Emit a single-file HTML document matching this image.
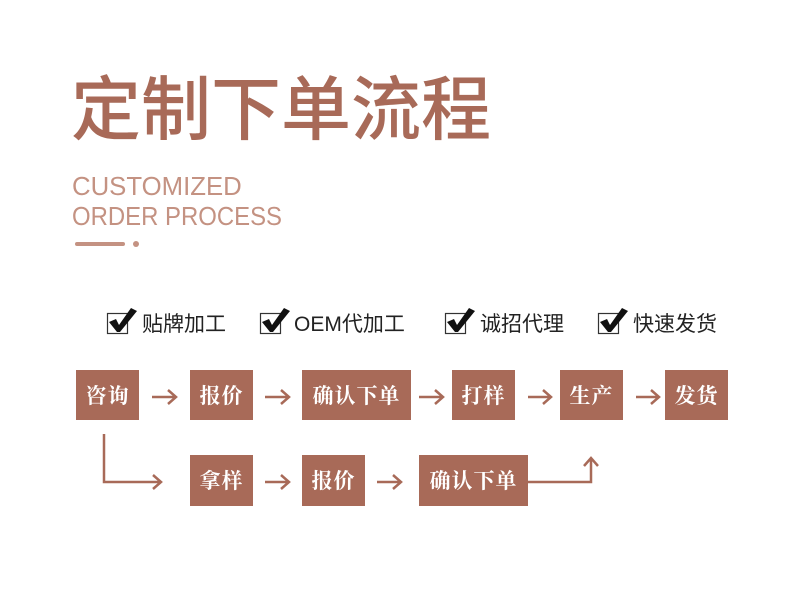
<!DOCTYPE html>
<html><head><meta charset="utf-8"><style>
body{margin:0;width:800px;height:605px;background:#fff;position:relative;overflow:hidden}
.t{position:absolute;left:71px;top:60px;font:500 70px/90px "Noto Sans CJK SC",sans-serif;color:#a86a58;white-space:nowrap}
.en{position:absolute;left:72px;font:26px/30px "Liberation Sans",sans-serif;color:#c49282;white-space:nowrap;transform-origin:0 0}
.chk{position:absolute;top:311px;font:21px/25px "Noto Sans CJK SC",sans-serif;color:#222;white-space:nowrap}
.bx{position:absolute;background:#a86a58;color:#fff;font:700 21px/50px "Noto Serif CJK SC",serif;text-align:center;letter-spacing:1px}
</style></head><body>
<div class="t">定制下单流程</div>
<div class="en" style="top:171px;transform:scaleX(0.99)">CUSTOMIZED</div>
<div class="en" style="top:201px;transform:scaleX(0.92)">ORDER PROCESS</div>
<div style="position:absolute;left:75px;top:242px;width:50px;height:4px;border-radius:2px;background:#c49282"></div>
<div style="position:absolute;left:133px;top:241px;width:6px;height:6px;border-radius:3px;background:#c49282"></div>

<svg width="800" height="605" style="position:absolute;left:0;top:0">
<g fill="none" stroke="#333" stroke-width="1.2">
<rect x="107.5" y="313.5" width="20" height="20"/><rect x="260.5" y="313.5" width="20" height="20"/><rect x="445.5" y="313.5" width="20" height="20"/><rect x="598.5" y="313.5" width="20" height="20"/>
</g>
<g fill="#111">
<path id="ck" d="M109 322 L116 319 L119 325 L131 308 L137 311 L120 332 L117 332 Z"/>
<use href="#ck" x="153"/><use href="#ck" x="338"/><use href="#ck" x="491"/>
</g>
<g fill="none" stroke="#a86a58" stroke-width="2.5">
<path d="M152 397 H175 M168 390 L176 397 L168 404"/>
<path d="M265 397 H288 M281 390 L289 397 L281 404"/>
<path d="M419 397 H442 M435 390 L443 397 L435 404"/>
<path d="M528 397 H550 M543 390 L551 397 L543 404"/>
<path d="M636 397 H658 M651 390 L659 397 L651 404"/>
<path d="M104 434 V482 H160 M153 475 L161 482 L153 489"/>
<path d="M265 482 H288 M281 475 L289 482 L281 489"/>
<path d="M377 482 H400 M393 475 L401 482 L393 489"/>
<path d="M528 482 H591 V459 M584 466 L591 458 L598 466"/>
</g>
</svg>
<div class="chk" style="left:142px">贴牌加工</div>
<div class="chk" style="left:294px"><span style="font-family:'Liberation Sans',sans-serif">OEM</span>代加工</div>
<div class="chk" style="left:480px">诚招代理</div>
<div class="chk" style="left:633px">快速发货</div>

<div class="bx" style="left:76px;top:370px;width:63px;height:50px">咨询</div>
<div class="bx" style="left:190px;top:370px;width:63px;height:50px">报价</div>
<div class="bx" style="left:302px;top:370px;width:109px;height:50px">确认下单</div>
<div class="bx" style="left:452px;top:370px;width:63px;height:50px">打样</div>
<div class="bx" style="left:560px;top:370px;width:63px;height:50px">生产</div>
<div class="bx" style="left:665px;top:370px;width:63px;height:50px">发货</div>
<div class="bx" style="left:190px;top:455px;width:63px;height:51px;line-height:51px">拿样</div>
<div class="bx" style="left:302px;top:455px;width:63px;height:51px;line-height:51px">报价</div>
<div class="bx" style="left:419px;top:455px;width:109px;height:51px;line-height:51px">确认下单</div>
</body></html>
